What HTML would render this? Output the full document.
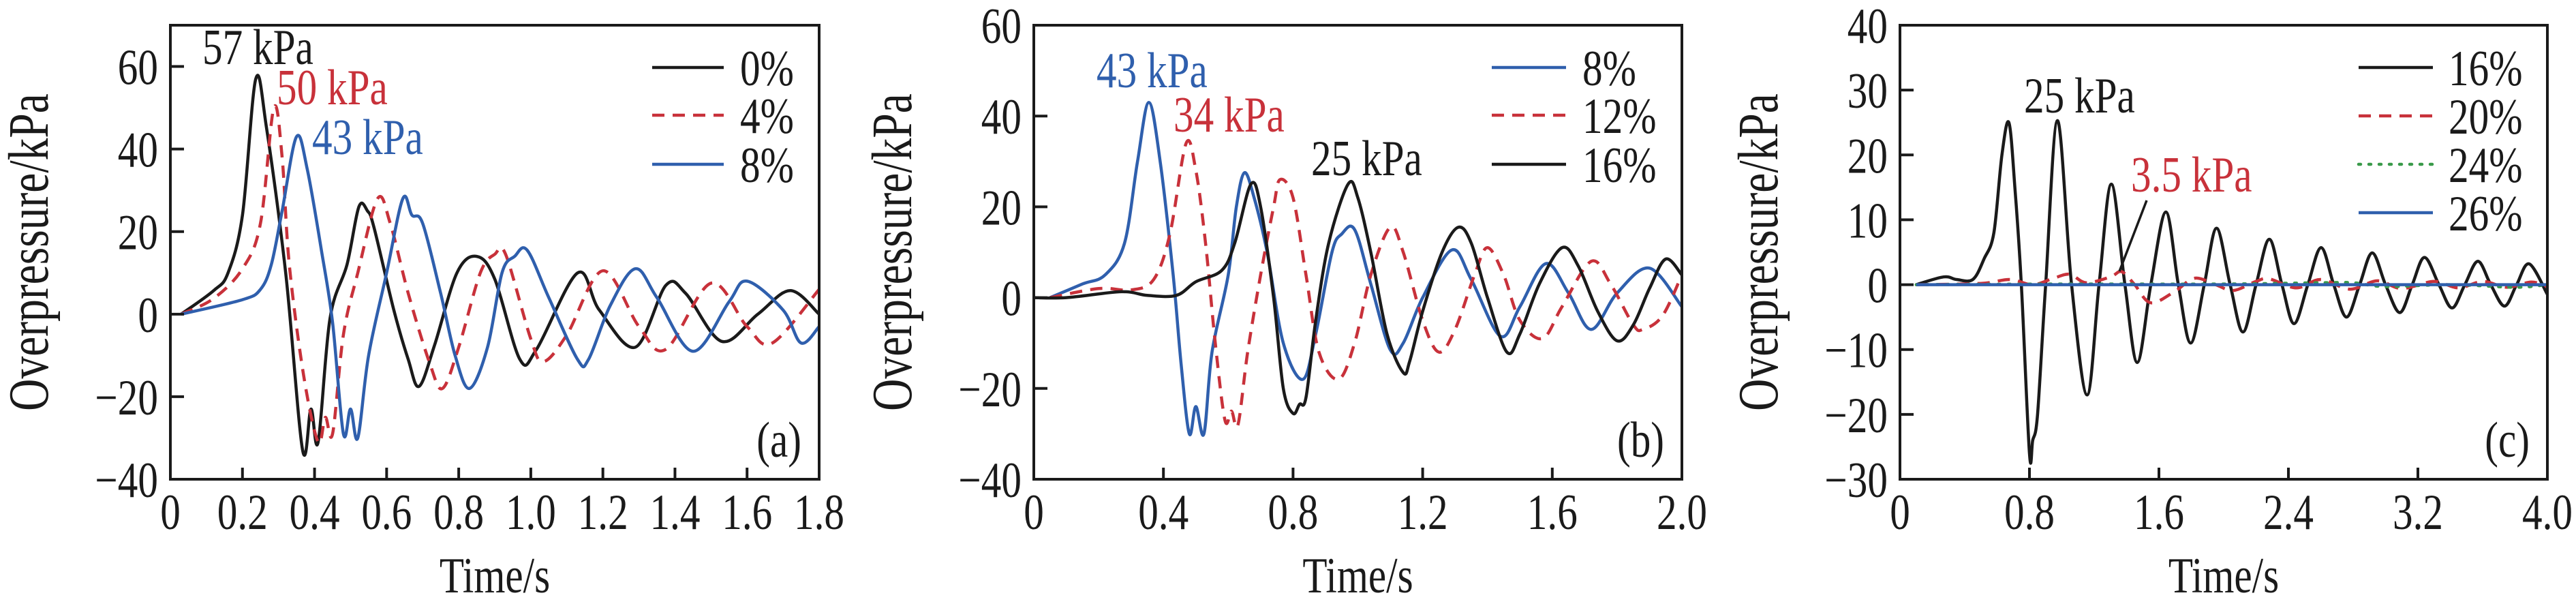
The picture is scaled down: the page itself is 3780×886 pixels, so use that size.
<!DOCTYPE html>
<html><head><meta charset="utf-8"><style>
html,body{margin:0;padding:0;background:#fff;}
svg{display:block;}
text{font-family:"Liberation Serif",serif;}
</style></head><body>
<svg id="chart" width="3780" height="886" viewBox="0 0 3780 886" xmlns="http://www.w3.org/2000/svg"></svg>
<script>
// ---------- Panel (a) data ----------
const aT0 = [0.03,0.12,0.16,0.2,0.237,0.267,0.32,0.367,0.39,0.41,0.443,0.49,0.523,0.547,0.565,0.62,0.66,0.69,0.733,0.795,0.85,0.9,0.97,1.016,1.13,1.19,1.29,1.375,1.43,1.53,1.63,1.72,1.8];
const aV0 = [0,5.7,10,24,57,45,10,-33,-23,-31,-1,12,26,25,21,1,-11,-17.5,-7.5,10,14,8.5,-11,-8.5,10,1,-8,7,5,-6.6,0,5.7,0];
const aT4 = [0.03,0.12,0.2,0.25,0.287,0.31,0.33,0.37,0.41,0.43,0.45,0.48,0.52,0.575,0.61,0.66,0.72,0.755,0.8,0.86,0.9,0.93,1.0,1.035,1.1,1.2,1.3,1.375,1.5,1.6,1.67,1.8];
const aV4 = [0,3.8,11,22,50,38,12,-15,-31,-25,-29,-5,10,28,22,5,-12,-18,-8,10,14.5,14.5,-6,-11.5,-5,10.5,-3,-8.5,7.5,-3,-7,6];
const aT8 = [0.03,0.2,0.25,0.28,0.31,0.35,0.38,0.42,0.45,0.48,0.5,0.52,0.55,0.6,0.645,0.67,0.7,0.75,0.79,0.83,0.88,0.92,0.955,0.99,1.05,1.13,1.16,1.22,1.29,1.35,1.45,1.55,1.6,1.7,1.75,1.8];
const aV8 = [0,3.5,6,12,25,43,35,15,-2,-29,-23,-30,-10,10,28,24,22,5,-10,-18,-8,10,14,15.5,4,-11,-11,2,11,4,-9,3,8,1,-7,-3];
const aXTicks = [0,0.2,0.4,0.6,0.8,1.0,1.2,1.4,1.6,1.8];
const aXLabels = ["0","0.2","0.4","0.6","0.8","1.0","1.2","1.4","1.6","1.8"];
const aYTicks = [-40,-20,0,20,40,60];
const aYLabels = ["\u221240","\u221220","0","20","40","60"];

// ---------- Panel (b) data ----------
const bT8 = [0.05,0.15,0.22,0.28,0.32,0.355,0.39,0.43,0.455,0.48,0.5,0.525,0.55,0.6,0.625,0.65,0.68,0.72,0.77,0.83,0.87,0.92,0.95,0.99,1.04,1.1,1.14,1.2,1.29,1.35,1.44,1.5,1.58,1.65,1.72,1.8,1.9,2.0];
const bV8 = [0,3,5,12,30,43,30,5,-15,-30,-24,-30,-12,5,20,27.5,22,10,-10,-18,-8,10,14,15,3,-11.5,-10,0,10.5,4,-8.5,-2,7.5,1,-7,1,6.5,-2];
const bT12 = [0.05,0.2,0.3,0.37,0.42,0.47,0.5,0.53,0.56,0.59,0.61,0.63,0.66,0.7,0.74,0.76,0.8,0.84,0.88,0.94,0.99,1.04,1.1,1.14,1.2,1.25,1.3,1.36,1.4,1.45,1.5,1.57,1.63,1.72,1.78,1.85,1.88,1.94,2.0];
const bV12 = [0,2,1.7,4,14,34,28,12,-10,-27,-25,-28,-12,5,20,26,22,5,-12,-18,-10,5,15.5,10,-5,-12,-7,5,11,5,-5,-9,-2,8,3,-6,-7,-4,5];
const bT16 = [0,0.1,0.27,0.35,0.44,0.5,0.58,0.62,0.67,0.7,0.74,0.77,0.8,0.82,0.84,0.87,0.91,0.97,1.0,1.04,1.09,1.14,1.16,1.2,1.26,1.31,1.35,1.4,1.46,1.5,1.56,1.63,1.68,1.74,1.8,1.85,1.9,1.95,2.0];
const bV16 = [0,0,1.3,0.5,0.5,3.5,6,12,25,20,0,-20,-25.5,-23.5,-22,-5,12,25,22,10,-8,-16.5,-14,-3,10,15.5,12,0,-12,-8,3,11,7,-3,-9.5,-6,2,8.5,5];
const bXTicks = [0,0.4,0.8,1.2,1.6,2.0];
const bXLabels = ["0","0.4","0.8","1.2","1.6","2.0"];
const bYTicks = [-40,-20,0,20,40,60];
const bYLabels = ["\u221240","\u221220","0","20","40","60"];

// ---------- Panel (c) data ----------
const cT16 = [0.1,0.27,0.35,0.45,0.52,0.58,0.63,0.673,0.71,0.75,0.8,0.82,0.85,0.9,0.973,1.06,1.156,1.23,1.306,1.39,1.466,1.55,1.643,1.72,1.796,1.88,1.956,2.04,2.119,2.2,2.282,2.36,2.435,2.52,2.602,2.68,2.759,2.84,2.918,3.0,3.088,3.165,3.241,3.33,3.411,3.49,3.571,3.65,3.735,3.81,3.888,4.0];
const cV16 = [0,1.2,0.8,0.8,4,8,20,25,15,0,-26,-24,-20,0,25.3,0,-17,0,15.5,0,-12,0,11.2,0,-9,0,8.7,0,-7.3,0,7,0,-6,0,5.7,0,-5,0,4.9,0,-4.3,0,4.2,0,-3.6,0,3.6,0,-3.3,0,3.2,-1.5];
const cT20 = [0.1,0.5,0.68,0.82,0.95,1.05,1.15,1.3,1.37,1.45,1.55,1.7,1.82,1.95,2.06,2.2,2.28,2.45,2.6,2.78,2.95,3.1,3.3,3.45,3.6,3.75,3.9,4.0];
const cV20 = [0,0.2,0.8,0,1,1.6,0.3,1.2,2,0,-2.8,-1,1,0,-0.9,0.5,0.9,-0.5,0.8,-0.7,0.6,-0.6,0.5,-0.5,0.5,-0.4,0.4,-0.3];
const cT24 = [0.1,1.0,2.0,2.6,2.8,3.0,3.4,3.8,4.0];
const cV24 = [0,0.1,0.1,0.3,0.3,-0.3,0,-0.4,0];
const cT26 = [0.1,4.0];
const cV26 = [0,0];
const cXTicks = [0,0.8,1.6,2.4,3.2,4.0];
const cXLabels = ["0","0.8","1.6","2.4","3.2","4.0"];
const cYTicks = [-30,-20,-10,0,10,20,30,40];
const cYLabels = ["\u221230","\u221220","\u221210","0","10","20","30","40"];

const NS = "http://www.w3.org/2000/svg";
const svg = document.getElementById('chart');
const BLACK = "#1a1a1a", RED = "#c8313a", BLUE = "#2f5fad", GREEN = "#3a9a4a";
const FS = 74, SX = 0.8;

function mk(tag, attrs, parent){
  const e = document.createElementNS(NS, tag);
  for (const k in attrs) e.setAttribute(k, attrs[k]);
  (parent || svg).appendChild(e);
  return e;
}
function txt(parent, x, y, s, anchor, color, rot){
  const e = mk('text', {x:0, y:0, 'font-size': rot ? 84 : FS, fill:color||BLACK, 'text-anchor':anchor||'start',
    transform: rot ? `translate(${x},${y}) rotate(-90) scale(0.78,1)` : `translate(${x},${y}) scale(${SX},1)`}, parent);
  e.textContent = s;
  return e;
}
function smoothPath(pts){
  if (pts.length < 3) return 'M' + pts.map(p => p[0].toFixed(1)+','+p[1].toFixed(1)).join(' L');
  let d = `M${pts[0][0].toFixed(1)},${pts[0][1].toFixed(1)}`;
  for (let i=0;i<pts.length-1;i++){
    const p0 = pts[Math.max(0,i-1)], p1 = pts[i], p2 = pts[i+1], p3 = pts[Math.min(pts.length-1,i+2)];
    const c1x = p1[0] + (p2[0]-p0[0])/6, c1y = p1[1] + (p2[1]-p0[1])/6;
    const c2x = p2[0] - (p3[0]-p1[0])/6, c2y = p2[1] - (p3[1]-p1[1])/6;
    d += ` C${c1x.toFixed(1)},${c1y.toFixed(1)} ${c2x.toFixed(1)},${c2y.toFixed(1)} ${p2[0].toFixed(1)},${p2[1].toFixed(1)}`;
  }
  return d;
}
function dashFor(style){
  if (style === 'dash') return '18,12';
  if (style === 'dot') return '3,12';
  return null;
}

function panel(cfg){
  const g = mk('g', {});
  
  
  const L = cfg.left, R = cfg.right, T = 37, B = 703;
  const xS = t => L + (t - cfg.xmin) / (cfg.xmax - cfg.xmin) * (R - L);
  const yS = v => B - (v - cfg.ymin) / (cfg.ymax - cfg.ymin) * (B - T);

  const clipId = cfg.name + '-clip';
  const cp = mk('clipPath', {id: clipId}, g);
  mk('rect', {x:L, y:T, width:R-L, height:B-T}, cp);

  cfg.series.forEach(s => {
    const pts = s.t.map((t,i) => [xS(t), yS(s.v[i])]);
    const p = mk('path', {d: smoothPath(pts), fill:'none', stroke:s.color, 'stroke-width':4.5,
      'stroke-linejoin':'round', 'stroke-linecap': s.style==='dot' ? 'round' : 'butt', 'clip-path':`url(#${clipId})`}, g);
    const da = dashFor(s.style); if (da) p.setAttribute('stroke-dasharray', da);
    
    
  });

  const fr = mk('rect', {x:L, y:T, width:R-L, height:B-T, fill:'none', stroke:BLACK, 'stroke-width':4}, g);
  
  

  cfg.xTicks.forEach((t,i) => {
    const x = xS(t);
    mk('line', {x1:x, x2:x, y1:B, y2:B-17, stroke:BLACK, 'stroke-width':4}, g);
    const lb = txt(g, x, 776, cfg.xLabels[i], 'middle');
    
    
  });
  cfg.yTicks.forEach((v,i) => {
    const y = yS(v);
    mk('line', {x1:L, x2:L+20, y1:y, y2:y, stroke:BLACK, 'stroke-width':4}, g);
    const lb = txt(g, L-18, y+26, cfg.yLabels[i], 'end');
    
    
  });
  const xt = txt(g, (L+R)/2, 869, 'Time/s', 'middle');
  
  
  const yt = txt(g, L-180, 370, 'Overpressure/kPa', 'middle', BLACK, true);
  
  

  cfg.series.forEach((s,i) => {
    const y = cfg.legY[i];
    const ln = mk('line', {x1:cfg.legX1, x2:cfg.legX2, y1:y, y2:y, stroke:s.color, 'stroke-width':4.5,
      'stroke-linecap': s.style==='dot' ? 'round' : 'butt'}, g);
    const da = dashFor(s.style); if (da) ln.setAttribute('stroke-dasharray', da);
    
    
    const lt = txt(g, cfg.legTX, y+26, s.label, 'start');
    
    
  });

  cfg.notes.forEach(n => {
    const a = txt(g, n.x, n.y, n.s, 'start', n.c);
    
    
  });
  const pl = txt(g, R-26, 670, cfg.tag, 'end');
  
  
  return {xS, yS, g};
}

panel({name:'panel-a', left:250, right:1202, xmin:0, xmax:1.8, ymin:-40, ymax:70,
  xTicks:aXTicks, xLabels:aXLabels, yTicks:aYTicks, yLabels:aYLabels,
  series:[{t:aT0,v:aV0,color:BLACK,style:'solid',label:'0%'},
          {t:aT4,v:aV4,color:RED,style:'dash',label:'4%'},
          {t:aT8,v:aV8,color:BLUE,style:'solid',label:'8%'}],
  legX1:957, legX2:1062, legTX:1086, legY:[99,169,241],
  notes:[{x:297,y:94,s:'57 kPa',c:BLACK},{x:406,y:153,s:'50 kPa',c:RED},{x:458,y:226,s:'43 kPa',c:BLUE}],
  tag:'(a)'});

panel({name:'panel-b', left:1517, right:2468, xmin:0, xmax:2.0, ymin:-40, ymax:60,
  xTicks:bXTicks, xLabels:bXLabels, yTicks:bYTicks, yLabels:bYLabels,
  series:[{t:bT8,v:bV8,color:BLUE,style:'solid',label:'8%'},
          {t:bT12,v:bV12,color:RED,style:'dash',label:'12%'},
          {t:bT16,v:bV16,color:BLACK,style:'solid',label:'16%'}],
  legX1:2189, legX2:2298, legTX:2322, legY:[99,169,241],
  notes:[{x:1609,y:128,s:'43 kPa',c:BLUE},{x:1722,y:193,s:'34 kPa',c:RED},{x:1924,y:257,s:'25 kPa',c:BLACK}],
  tag:'(b)'});

const pc = panel({name:'panel-c', left:2788, right:3738, xmin:0, xmax:4.0, ymin:-30, ymax:40,
  xTicks:cXTicks, xLabels:cXLabels, yTicks:cYTicks, yLabels:cYLabels,
  series:[{t:cT16,v:cV16,color:BLACK,style:'solid',label:'16%'},
          {t:cT20,v:cV20,color:RED,style:'dash',label:'20%'},
          {t:cT24,v:cV24,color:GREEN,style:'dot',label:'24%'},
          {t:cT26,v:cV26,color:BLUE,style:'solid',label:'26%'}],
  legX1:3461, legX2:3570, legTX:3593, legY:[99,170,241,312],
  notes:[{x:2970,y:165,s:'25 kPa',c:BLACK},{x:3127,y:281,s:'3.5 kPa',c:RED}],
  tag:'(c)'});
const leader = mk('line', {x1:3150, y1:294, x2:3110, y2:398, stroke:BLACK, 'stroke-width':3.5}, pc.g);


</script>
</body></html>
